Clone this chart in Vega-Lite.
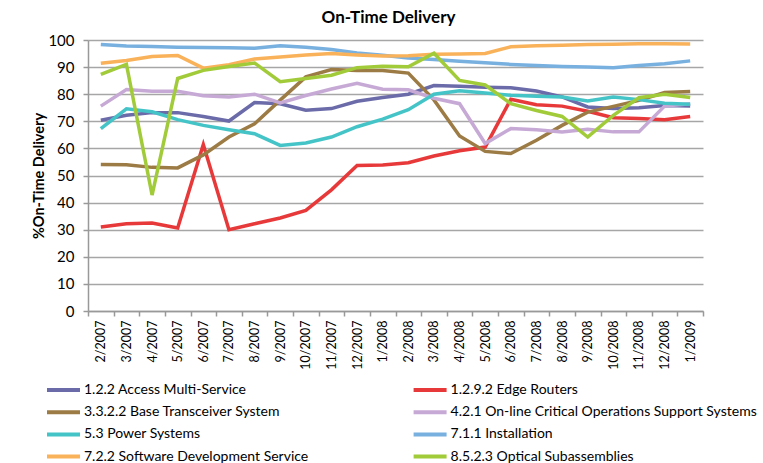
{
 "$schema": "https://vega.github.io/schema/vega-lite/v6.json",
 "width": 615, "height": 271,
 "autosize": {"type": "none"},
 "padding": {"left": 88, "top": 40, "right": 60, "bottom": 152},
 "background": "white",
 "title": {"text": "On-Time Delivery", "font": "Lato", "fontSize": 17, "fontWeight": "bold", "color": "#000", "anchor": "middle", "offset": 6, "dx": -7},
 "config": {"view": {"stroke": null}, "font": "Lato"},
 "datasets": {
  "d": [
   {"m":"2/2007","A":70.4,"E":31,"B":54.1,"O":75.6,"P":67.3,"I":98.3,"S":91.4,"G":87.3},
   {"m":"3/2007","A":72.2,"E":32.2,"B":54,"O":81.7,"P":74.6,"I":97.8,"S":92.4,"G":91},
   {"m":"4/2007","A":73.2,"E":32.5,"B":53,"O":81.1,"P":73.5,"I":97.6,"S":93.9,"G":42.8},
   {"m":"5/2007","A":73.2,"E":30.6,"B":52.8,"O":81.1,"P":70.6,"I":97.3,"S":94.3,"G":85.8},
   {"m":"6/2007","A":71.8,"E":61.4,"B":57.6,"O":79.4,"P":68.5,"I":97.2,"S":89.6,"G":88.8},
   {"m":"7/2007","A":70.1,"E":30,"B":64.2,"O":79,"P":66.9,"I":97.1,"S":90.9,"G":90.2},
   {"m":"8/2007","A":76.9,"E":32.2,"B":69.1,"O":80,"P":65.4,"I":97,"S":93,"G":91.5},
   {"m":"9/2007","A":76.5,"E":34.3,"B":77.8,"O":76.8,"P":61.1,"I":97.9,"S":93.7,"G":84.6},
   {"m":"10/2007","A":74.1,"E":37.1,"B":86.4,"O":79.5,"P":62,"I":97.3,"S":94.5,"G":85.8},
   {"m":"11/2007","A":74.7,"E":44.7,"B":89.1,"O":81.9,"P":64.2,"I":96.5,"S":95,"G":87},
   {"m":"12/2007","A":77.4,"E":53.7,"B":88.7,"O":84,"P":68,"I":95.2,"S":94.5,"G":89.8},
   {"m":"1/2008","A":78.8,"E":53.9,"B":88.7,"O":81.8,"P":70.8,"I":94.4,"S":94.1,"G":90.3},
   {"m":"2/2008","A":80,"E":54.7,"B":87.8,"O":81.6,"P":74.3,"I":93.4,"S":94.2,"G":90.1},
   {"m":"3/2008","A":83.2,"E":57.2,"B":77.9,"O":78.5,"P":80,"I":92.8,"S":94.7,"G":95.1},
   {"m":"4/2008","A":82.9,"E":59.1,"B":64.6,"O":76.5,"P":81.3,"I":92.2,"S":94.8,"G":85.1},
   {"m":"5/2008","A":82.6,"E":60.5,"B":58.9,"O":61.8,"P":80.4,"I":91.6,"S":95,"G":83.4},
   {"m":"6/2008","A":82.4,"E":78.1,"B":58.1,"O":67.3,"P":79.6,"I":91,"S":97.5,"G":76.5},
   {"m":"7/2008","A":81.2,"E":76.1,"B":63,"O":66.9,"P":79.2,"I":90.6,"S":97.9,"G":74},
   {"m":"8/2008","A":79,"E":75.6,"B":68.5,"O":66.1,"P":79,"I":90.2,"S":98.1,"G":71.8},
   {"m":"9/2008","A":75.3,"E":73.7,"B":73.4,"O":67.1,"P":77.5,"I":90,"S":98.3,"G":64.2},
   {"m":"10/2008","A":74.7,"E":71.3,"B":75.5,"O":66.1,"P":79,"I":89.8,"S":98.4,"G":72.2},
   {"m":"11/2008","A":75,"E":71,"B":77.7,"O":66.1,"P":78,"I":90.6,"S":98.6,"G":78.7},
   {"m":"12/2008","A":75.8,"E":70.6,"B":80.6,"O":75.6,"P":76.7,"I":91.2,"S":98.6,"G":80},
   {"m":"1/2009","A":75.6,"E":71.8,"B":81,"O":76.5,"P":76.3,"I":92.3,"S":98.5,"G":78.8}
  ],
  "names": [
   {"k":"A","s":"1.2.2 Access Multi-Service"},
   {"k":"E","s":"1.2.9.2 Edge Routers"},
   {"k":"B","s":"3.3.2.2 Base Transceiver System"},
   {"k":"O","s":"4.2.1 On-line Critical Operations Support Systems"},
   {"k":"P","s":"5.3 Power Systems"},
   {"k":"I","s":"7.1.1 Installation"},
   {"k":"S","s":"7.2.2 Software Development Service"},
   {"k":"G","s":"8.5.2.3 Optical Subassemblies"}
  ]
 },
 "data": {"name": "d"},
 "transform": [
  {"fold": ["A","E","B","O","P","I","S","G"], "as": ["k","v"]},
  {"lookup": "k", "from": {"data": {"name": "names"}, "key": "k", "fields": ["s"]}}
 ],
 "mark": {"type": "line", "strokeWidth": 3.5},
 "encoding": {
  "x": {"field": "m", "type": "ordinal", "sort": null, "bandPosition": 0.5,
        "scale": {"type": "band", "paddingInner": 0, "paddingOuter": 0},
        "axis": {"title": null, "labelAngle": -90, "labelFontSize": 12.5, "labelColor": "#000", "domainColor": "#999", "domainWidth": 1.5, "tickColor": "#999", "tickBand": "extent", "tickSize": 5, "tickWidth": 1.5, "labelPadding": 4, "grid": false}},
  "y": {"field": "v", "type": "quantitative", "scale": {"domain": [0, 100]},
        "axis": {"values": [0,10,20,30,40,50,60,70,80,90,100], "title": "%On-Time Delivery", "titleFontSize": 14.5, "titleFontWeight": "bold", "titleColor": "#000", "titleX": -42, "labelFontSize": 15, "labelColor": "#000", "gridColor": "#a6a6a6", "gridWidth": 1.5, "domainColor": "#999", "domainWidth": 1.5, "tickColor": "#999", "tickWidth": 1.5, "tickSize": 5, "labelPadding": 9}},
  "color": {"field": "s", "type": "nominal",
        "scale": {"domain": ["1.2.2 Access Multi-Service","1.2.9.2 Edge Routers","3.3.2.2 Base Transceiver System","4.2.1 On-line Critical Operations Support Systems","5.3 Power Systems","7.1.1 Installation","7.2.2 Software Development Service","8.5.2.3 Optical Subassemblies"],
                  "range": ["#6B6BAA","#E8393A","#9C7B45","#C7A9D6","#45C4C8","#78B0E0","#F9B25A","#A2CB3A"]},
        "legend": {"title": null, "orient": "none", "direction": "horizontal", "legendX": -32, "legendY": 337, "columns": 2, "symbolType": "M-2,0H1", "symbolStrokeWidth": 4, "symbolSize": 484, "labelFontSize": 14, "labelColor": "#000", "labelOffset": 2, "rowPadding": 1.2, "columnPadding": 96.6, "gridAlign": "each", "labelLimit": 400}}
 }
}
